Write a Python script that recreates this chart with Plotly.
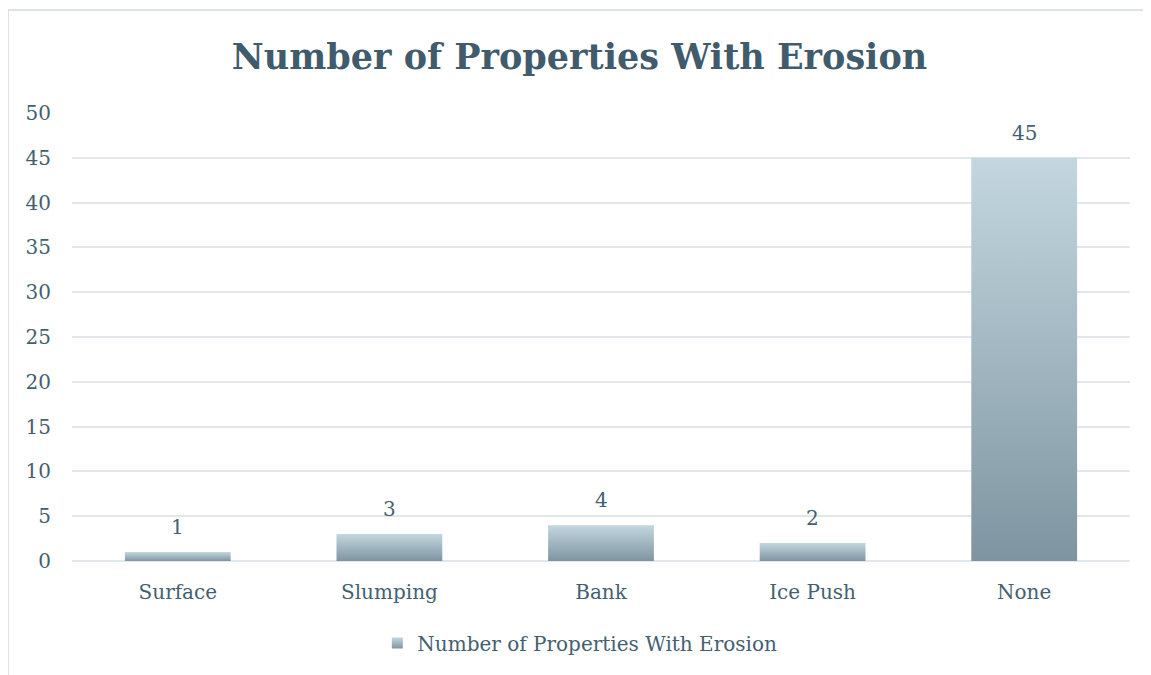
import plotly.graph_objects as go

categories = ["Surface", "Slumping", "Bank", "Ice Push", "None"]
values = [1, 3, 4, 2, 45]
y_ticks = list(range(0, 55, 5))

series_name = "Number of Properties With Erosion"
text_color = "#44606F"
grid_color = "#E1E7EB"
dark, light = "#7E95A1", "#C4D7E0"
bar_scale = [[0, dark], [1, light]]
half_w = 0.25
serif = "DejaVu Serif"

fig = go.Figure()

for i, (cat, v) in enumerate(zip(categories, values)):
    fig.add_trace(go.Scatter(
        x=[i - half_w, i + half_w, i + half_w, i - half_w, i - half_w],
        y=[0, 0, v, v, 0],
        mode="lines",
        line=dict(width=0),
        fill="toself",
        fillgradient=dict(type="vertical", colorscale=bar_scale),
        showlegend=False,
        hoverinfo="skip",
    ))

# legend swatch
fig.add_trace(go.Scatter(
    x=[None], y=[None],
    mode="markers",
    name=series_name,
    marker=dict(symbol="square", size=11, color=light,
                gradient=dict(type="vertical", color=dark)),
))

for i, v in enumerate(values):
    fig.add_annotation(
        x=i, y=v, text=str(v), showarrow=False,
        yanchor="bottom", yshift=11,
        font=dict(size=20, color=text_color, family=serif),
    )

fig.update_layout(
    width=1143,
    height=667,
    paper_bgcolor="white",
    plot_bgcolor="white",
    margin=dict(l=64, r=21, t=105, b=114),
    font=dict(family=serif, color=text_color, size=20),
    title=dict(
        text="<b>Number of Properties With Erosion</b>",
        x=0.5, xanchor="center",
        y=1 - 49 / 667, yanchor="middle", yref="container",
        font=dict(size=35, color="#3F5B6C", family=serif),
    ),
    xaxis=dict(
        range=[-0.5, len(categories) - 0.5],
        tickvals=list(range(len(categories))),
        ticktext=categories,
        showgrid=False,
        zeroline=False,
        showline=False,
        ticklabelstandoff=17,
        tickfont=dict(size=20, color=text_color),
    ),
    yaxis=dict(
        range=[0, 50],
        tickvals=y_ticks,
        showgrid=True,
        gridcolor=grid_color,
        gridwidth=2,
        zeroline=True,
        zerolinecolor=grid_color,
        zerolinewidth=2,
        ticklabelstandoff=20,
        tickfont=dict(size=20, color=text_color),
    ),
    showlegend=True,
    legend=dict(
        orientation="h",
        x=0.48, xanchor="center",
        y=-0.183, yanchor="middle",
        font=dict(size=20, color=text_color),
    ),
    shapes=[dict(
        type="rect", xref="paper", yref="paper",
        x0=-0.0605, x1=1.02, y0=-0.26, y1=1.23,
        line=dict(color="#DDE4E8", width=2),
        fillcolor="rgba(0,0,0,0)",
        layer="below",
    )],
)

fig.write_html("out.html")
